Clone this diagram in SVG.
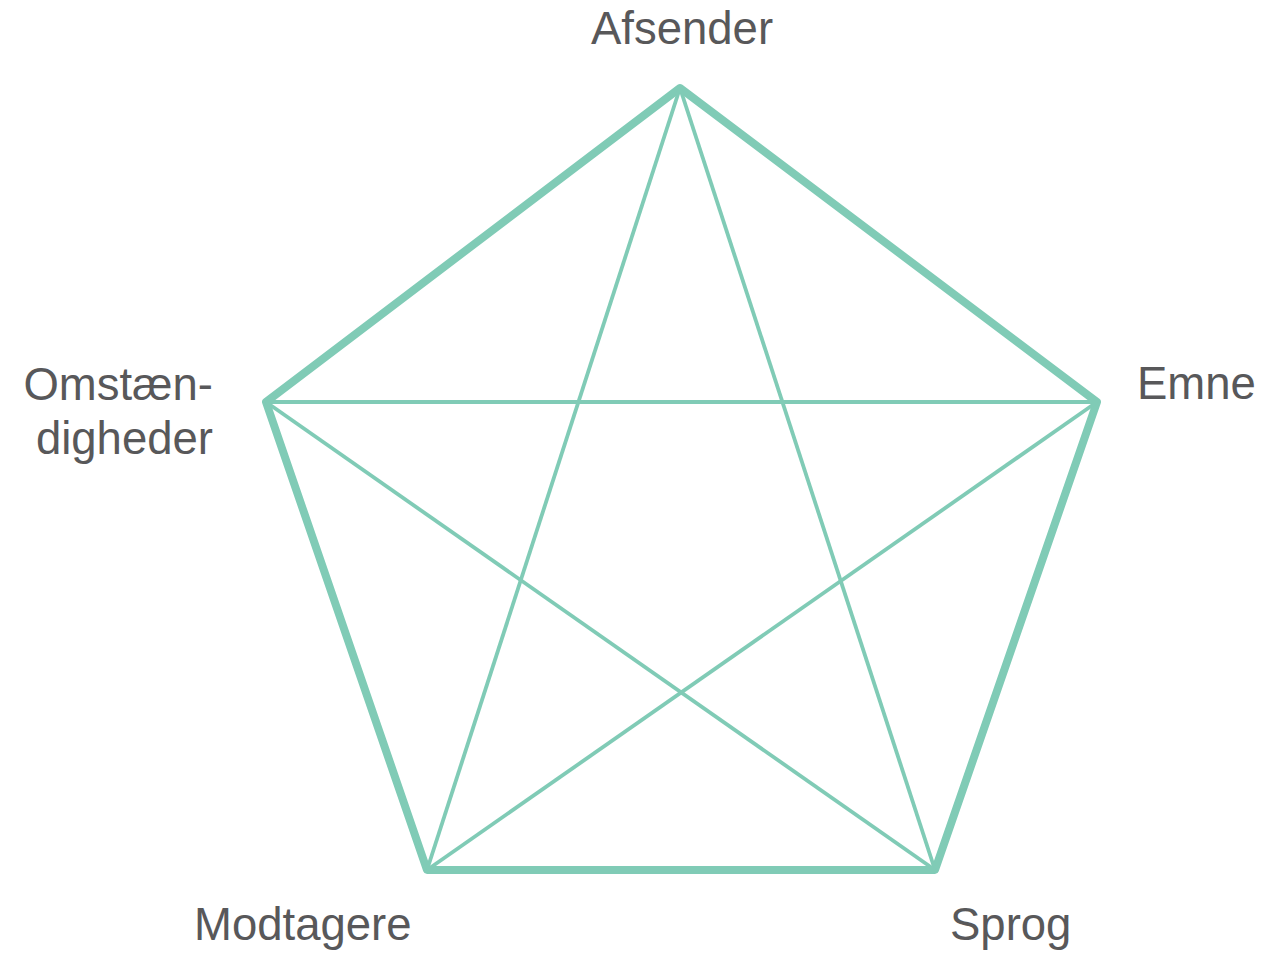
<svg xmlns="http://www.w3.org/2000/svg" width="1274" height="955" viewBox="0 0 1274 955">
<style>
.lbl{font-family:"Liberation Sans",Arial,sans-serif;font-size:45.5px;fill:#58585a}
.outer{fill:none;stroke:#80cbb6;stroke-width:8;stroke-linejoin:round}
.inner{fill:none;stroke:#80cbb6;stroke-width:3.8}
</style>
<rect width="1274" height="955" fill="#ffffff"/>
<g id="connectors">
<polygon class="outer" points="680,88 1097,402 935,870 427,870 266,402"/>
<line class="inner" x1="680" y1="88" x2="935" y2="870"/>
<line class="inner" x1="680" y1="88" x2="427" y2="870"/>
<line class="inner" x1="266" y1="402" x2="1097" y2="402"/>
<line class="inner" x1="266" y1="402" x2="935" y2="870"/>
<line class="inner" x1="1097" y1="402" x2="427" y2="870"/>
</g>
<g id="afsender"><text class="lbl" x="682" y="44" text-anchor="middle">Afsender</text></g>
<g id="emne"><text class="lbl" x="1137" y="399">Emne</text></g>
<g id="omstaendigheder"><text class="lbl" x="213" y="400" text-anchor="end">Omstæn-</text><text class="lbl" x="213" y="454" text-anchor="end">digheder</text></g>
<g id="modtagere"><text class="lbl" x="194" y="940">Modtagere</text></g>
<g id="sprog"><text class="lbl" x="950" y="940">Sprog</text></g>
</svg>
